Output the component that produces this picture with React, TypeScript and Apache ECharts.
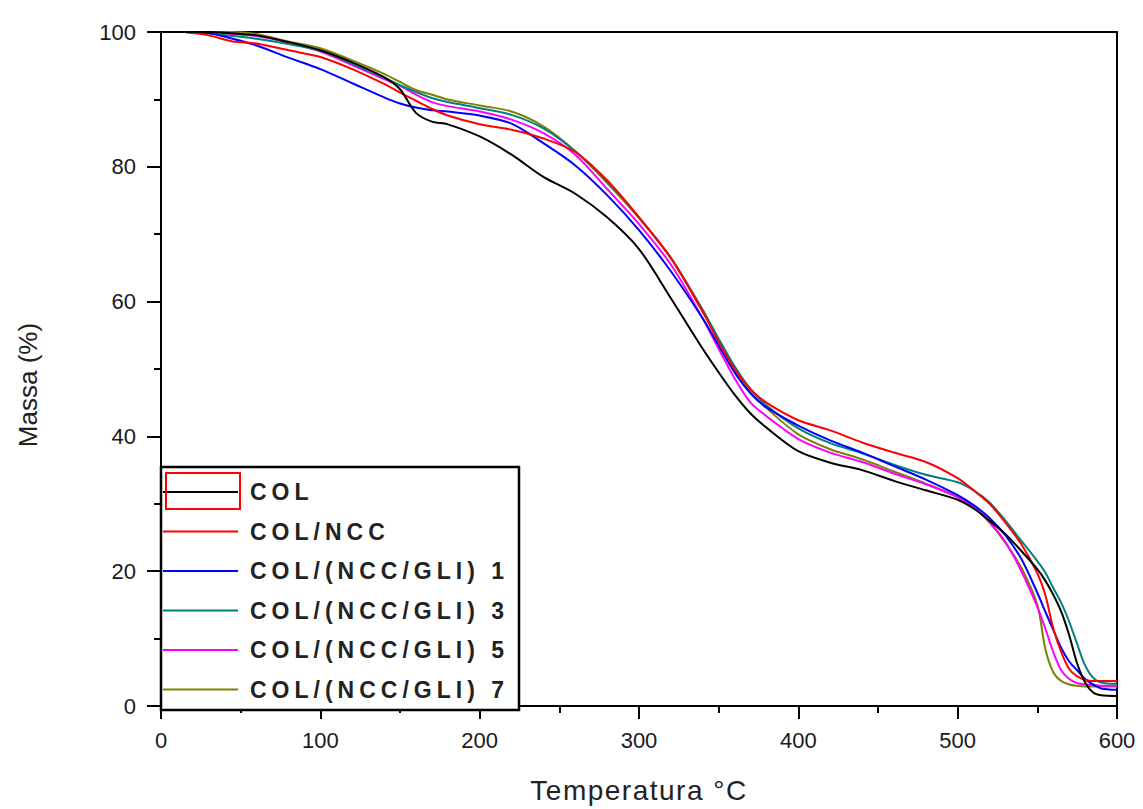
import React, { useEffect, useRef } from "react";
import * as echarts from "echarts";

const temps = [15, 30, 45, 60, 80, 100, 120, 140, 150, 160, 170, 180, 200, 220, 240, 260, 280, 300, 320, 340, 350, 360, 370, 380, 400, 420, 440, 460, 480, 500, 510, 520, 530, 540, 550, 555, 560, 565, 570, 575, 580, 585, 590, 600];

const col = [100, 100, 99.8, 99.5, 98.5, 97.3, 95.5, 93.3, 91.5, 88, 86.7, 86.3, 84.5, 81.8, 78.5, 76, 72.5, 67.8, 60.5, 53, 49.5, 46.2, 43.4, 41.3, 37.8, 36.1, 35, 33.4, 32, 30.6, 29.3, 27.5, 25.5, 23, 20.3, 18.6, 16.5, 14, 10.5, 6.3, 3.5, 2, 1.6, 1.5];
const colNcc = [100, 99.5, 98.6, 98.3, 97.3, 96.3, 94.5, 92.3, 91, 89.8, 88.6, 87.6, 86.3, 85.5, 84.2, 82.2, 78, 72.5, 66.5, 58.5, 54, 50, 47, 45, 42.4, 40.9, 39.1, 37.6, 36.2, 33.8, 32, 30, 27.2, 24, 19.7, 16.5, 11.5, 8, 5.5, 4.4, 3.9, 3.7, 3.7, 3.7];
const gli1 = [100, 99.8, 99, 98, 96.2, 94.5, 92.4, 90.3, 89.4, 88.8, 88.4, 88.2, 87.6, 86.4, 83.5, 80.2, 75.8, 70.6, 64.5, 57.5, 53.5, 49.5, 46.4, 44.3, 41.6, 39.4, 37.6, 35.6, 33.6, 31.3, 29.8, 27.9, 25.3, 21.8, 16.8, 14, 11.3, 8.6, 6.6, 5.3, 4, 3.2, 2.6, 2.4];
const gli3 = [100, 99.8, 99.4, 99, 98.2, 97.2, 95.3, 93.2, 92.1, 91.1, 90.2, 89.6, 88.7, 87.7, 85.7, 82.3, 77.8, 72.5, 66.5, 58.8, 54.5, 50.4, 47, 44.6, 41.2, 39, 37.5, 35.8, 34.3, 33.2, 32, 30.2, 27.5, 24.5, 21.5, 19.8, 17.5, 15.3, 12.5, 9.2, 6, 4.2, 3.5, 3.3];
const gli5 = [100, 99.9, 99.7, 99.4, 98.4, 97.1, 95.1, 93, 92, 90.7, 89.6, 89, 88.2, 87, 85, 81.8, 76.7, 71.5, 65.5, 57.5, 53, 48.6, 45, 43, 39.6, 37.6, 36.2, 34.5, 32.9, 31, 29.5, 27.3, 24.3, 20, 14.7, 11.5, 8, 5.3, 4, 3.4, 3.2, 3.1, 3, 3];
const gli7 = [100, 100, 100, 99.7, 98.6, 97.6, 95.8, 93.8, 92.6, 91.4, 90.7, 90, 89.1, 88.2, 86, 82.3, 77.6, 72.4, 66.4, 58.5, 54.2, 49.8, 46.5, 44.2, 40.3, 38.1, 36.6, 34.8, 33, 31, 29.5, 27.2, 24.2, 20.5, 15, 8.5, 5, 3.7, 3.2, 3, 2.9, 2.9, 2.9, 2.9];

const seriesNames = ["COL", "COL/NCC", "COL/(NCC/GLI) 1", "COL/(NCC/GLI) 3", "COL/(NCC/GLI) 5", "COL/(NCC/GLI) 7"];
const seriesValues = [col, colNcc, gli1, gli3, gli5, gli7];
const colors = ["#000000", "#ff0000", "#0000ff", "#008080", "#ff00ff", "#808000"];

const xTicks = [0, 100, 200, 300, 400, 500, 600];
const yTicks = [0, 20, 40, 60, 80, 100];

const FONT = "'Liberation Sans', Arial, sans-serif";

export default function App() {
  const ref = useRef<HTMLDivElement>(null);
  useEffect(() => {
    if (!ref.current) return;
    const chart = echarts.init(ref.current, undefined, { renderer: "svg" });

    const legendTop = 492;
    const legendGap = 39.5;
    const legendEls: any[] = [
      {
        type: "rect",
        shape: { x: 161, y: 467, width: 358, height: 243 },
        style: { fill: "#ffffff", stroke: "#000000", lineWidth: 2.5 },
        z: 100,
      },
      {
        type: "rect",
        shape: { x: 166, y: 473, width: 74, height: 36 },
        style: { fill: "none", stroke: "#ff0000", lineWidth: 2 },
        z: 102,
      },
    ];
    seriesNames.forEach((name, i) => {
      const y = legendTop + i * legendGap;
      legendEls.push({
        type: "line",
        shape: { x1: 163, y1: y, x2: 238, y2: y },
        style: { stroke: colors[i], lineWidth: 2 },
        z: 101,
      });
      legendEls.push({
        type: "text",
        x: 250,
        y: y,
        style: {
          text: name,
          fill: "#222222",
          font: `bold 23px ${FONT}`,
          textAlign: "left",
          textVerticalAlign: "middle",
        },
        z: 101,
      });
    });

    const applySpacing = () => {
      if (!ref.current) return;
      const texts = ref.current.querySelectorAll("text");
      texts.forEach((t) => {
        const c = (t.textContent || "").trim();
        if (seriesNames.includes(c)) t.setAttribute("letter-spacing", "5px");
        if (c.indexOf("Temperatura") >= 0) {
          t.setAttribute("letter-spacing", "1.5px");
          (t as any).style.letterSpacing = "1.5px";
        }
      });
    };
    chart.on("finished", applySpacing);

    chart.setOption({
      animation: false,
      backgroundColor: "#ffffff",
      grid: { left: 161, right: 26, top: 32, bottom: 99, containLabel: false },
      xAxis: [
        {
          type: "value",
          min: xTicks[0],
          max: xTicks[xTicks.length - 1],
          interval: 100,
          name: "Temperatura °C",
          nameLocation: "middle",
          nameGap: 70,
          nameTextStyle: { fontSize: 28, color: "#222", fontFamily: FONT },
          axisLine: { show: true, onZero: false, lineStyle: { color: "#000", width: 2 } },
          axisTick: { show: true, inside: false, length: 13, lineStyle: { color: "#000", width: 2 } },
          minorTick: { show: true, splitNumber: 2, length: 7, lineStyle: { color: "#000", width: 2 } },
          axisLabel: { margin: 23, fontSize: 22, color: "#1a1a1a", fontFamily: FONT },
          splitLine: { show: false },
        },
        {
          type: "value",
          position: "top",
          min: 0,
          max: 600,
          axisLine: { show: true, onZero: false, lineStyle: { color: "#000", width: 2 } },
          axisTick: { show: false },
          axisLabel: { show: false },
          splitLine: { show: false },
        },
      ],
      yAxis: [
        {
          type: "value",
          min: yTicks[0],
          max: yTicks[yTicks.length - 1],
          interval: 20,
          name: "Massa (%)",
          nameLocation: "middle",
          nameGap: 120,
          nameTextStyle: { fontSize: 26, color: "#222", fontFamily: FONT, padding: [0, 32, 0, 0] },
          axisLine: { show: true, onZero: false, lineStyle: { color: "#000", width: 2 } },
          axisTick: { show: true, inside: false, length: 14, lineStyle: { color: "#000", width: 2 } },
          minorTick: { show: true, splitNumber: 2, length: 7, lineStyle: { color: "#000", width: 2 } },
          axisLabel: { margin: 25, fontSize: 22, color: "#1a1a1a", fontFamily: FONT },
          splitLine: { show: false },
        },
        {
          type: "value",
          position: "right",
          min: 0,
          max: 100,
          axisLine: { show: true, onZero: false, lineStyle: { color: "#000", width: 2 } },
          axisTick: { show: false },
          axisLabel: { show: false },
          splitLine: { show: false },
        },
      ],
      series: seriesNames.map((name, i) => ({
        name,
        type: "line",
        xAxisIndex: 0,
        yAxisIndex: 0,
        data: temps.map((t, j) => [t, seriesValues[i][j]]),
        symbol: "none",
        smooth: 0.3,
        lineStyle: { color: colors[i], width: 2 },
        itemStyle: { color: colors[i] },
        z: 2 + (5 - i),
      })),
      graphic: legendEls,
    });
    applySpacing();
    const timer = window.setTimeout(applySpacing, 50);

    return () => {
      window.clearTimeout(timer);
      chart.dispose();
    };
  }, []);

  return (
    <div
      ref={ref}
      style={{ position: "absolute", left: 0, top: 0, width: 1143, height: 809 }}
    />
  );
}
